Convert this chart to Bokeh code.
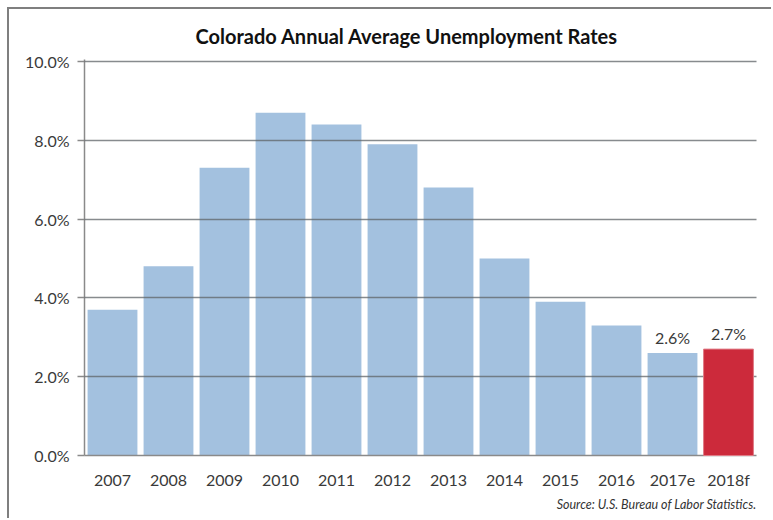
from bokeh.plotting import figure
from bokeh.models import ColumnDataSource, PrintfTickFormatter, FixedTicker, Title
from bokeh.core.properties import value
from bokeh.embed import file_html
from bokeh.resources import INLINE

years = ["2007", "2008", "2009", "2010", "2011", "2012", "2013", "2014", "2015", "2016", "2017e", "2018f"]
rates = [3.7, 4.8, 7.3, 8.7, 8.4, 7.9, 6.8, 5.0, 3.9, 3.3, 2.6, 2.7]
highlight_year = "2018f"
label_years = ["2017e", "2018f"]
y_ticks = [0, 2, 4, 6, 8, 10]

FONT = "Lato"
BLUE = "#a3c1df"
RED = "#cc2a3b"
TXT = "#3a3a3a"

blue_src = ColumnDataSource(dict(x=[y for y in years if y != highlight_year],
                                 top=[r for y, r in zip(years, rates) if y != highlight_year]))
red_src = ColumnDataSource(dict(x=[highlight_year], top=[rates[years.index(highlight_year)]]))
lab_src = ColumnDataSource(dict(x=label_years,
                                y=[rates[years.index(y)] for y in label_years],
                                t=["%.1f%%" % rates[years.index(y)] for y in label_years]))

p = figure(x_range=years, y_range=(0, 10.05), width=764, height=511,
           output_backend="svg", toolbar_location=None,
           min_border_left=75, min_border_right=17, min_border_top=50, min_border_bottom=65)
p.margin = (7, 0, 0, 7)
p.styles = {"border-top": "2px solid #7f7f7f", "border-left": "2px solid #7f7f7f"}

p.vbar(x="x", top="top", width=0.89, source=blue_src, fill_color=BLUE, line_color=None)
rb = p.vbar(x="x", top="top", width=0.89, source=red_src, fill_color=RED, line_color="#e07a85", line_width=1)
rb.level = "annotation"

p.text(x="x", y="y", text="t", source=lab_src, text_align="center", text_baseline="bottom",
       y_offset=-6, text_font=value(FONT), text_font_size="16px", text_color=TXT)

p.title.text = "Colorado Annual Average Unemployment Rates"
p.title.align = "left"
p.title.offset = 111
p.title.text_font = FONT
p.title.text_font_size = "20px"
p.title.text_font_style = "bold"
p.title.text_color = "#111111"
p.title.standoff = 23

src_title = Title(text="Source: U.S. Bureau of Labor Statistics.", align="right",
                  text_font=FONT, text_font_size="12.5px", text_font_style="italic",
                  text_color="#333333", standoff=6)
p.add_layout(src_title, "below")

p.outline_line_color = None
p.xgrid.grid_line_color = None
p.ygrid.ticker = FixedTicker(ticks=y_ticks)
p.ygrid.grid_line_color = "#5f6468"
p.ygrid.grid_line_alpha = 0.75
p.ygrid.grid_line_width = 1.5
p.ygrid.level = "guide"

p.yaxis.ticker = FixedTicker(ticks=y_ticks)
p.yaxis.formatter = PrintfTickFormatter(format="%.1f%%")
p.yaxis.axis_line_color = "#8a8a8a"
p.yaxis.axis_line_width = 1.5
p.yaxis.major_tick_line_color = "#8a8a8a"
p.yaxis.major_tick_line_width = 1.5
p.yaxis.major_tick_out = 7
p.yaxis.major_tick_in = 0
p.yaxis.minor_tick_line_color = None
p.yaxis.major_label_text_font = FONT
p.yaxis.major_label_text_font_size = "16px"
p.yaxis.major_label_text_color = TXT
p.yaxis.major_label_standoff = 8

p.xaxis.axis_line_color = "#8a8a8a"
p.xaxis.axis_line_width = 1.5
p.xaxis.major_tick_line_color = None
p.xaxis.minor_tick_line_color = None
p.xaxis.major_label_text_font = FONT
p.xaxis.major_label_text_font_size = "16px"
p.xaxis.major_label_text_color = TXT
p.xaxis.major_label_standoff = 8

open("out.html", "w").write(file_html(p, INLINE))
